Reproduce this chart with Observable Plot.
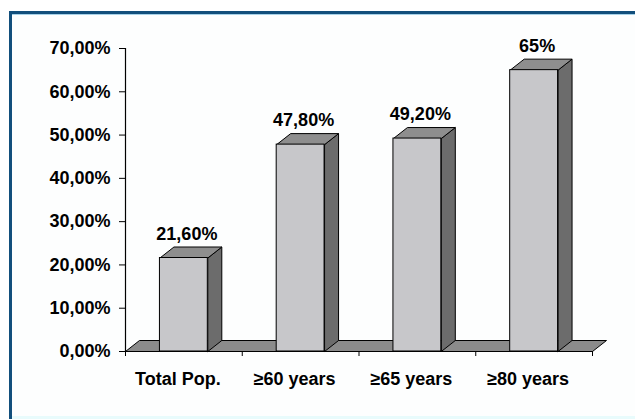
<!DOCTYPE html>
<html><head><meta charset="utf-8">
<script src="https://cdn.jsdelivr.net/npm/d3@7"></script>
<script src="https://cdn.jsdelivr.net/npm/@observablehq/plot@0.6"></script>
<style>
html,body{margin:0;padding:0;background:#fff;}
#frame{position:absolute;left:9px;top:11px;width:626px;height:408px;box-sizing:border-box;border-top:3px solid #124f7c;border-left:3px solid #124f7c;background:#fdfefe;}
#frame:before{content:"";position:absolute;left:0;right:0;top:0;height:1px;background:#a7d2e8;}
#frame:after{content:"";position:absolute;left:0;right:0;bottom:0;height:3px;background:#e8fbfc;}
#chart{position:absolute;left:0;top:0;}
</style></head><body>
<div id="frame"></div><div id="chart"></div>
<script>
const categories = ["Total Pop.", "≥60 years", "≥65 years", "≥80 years"];
const values = [21.6, 47.8, 49.2, 65];
const valueLabels = ["21,60%", "47,80%", "49,20%", "65%"];
const yTicks = [0, 10, 20, 30, 40, 50, 60, 70];

const W = 635, H = 419, mL = 125, mR = 43, mT = 48, mB = 68;
const yMax = 70;
const barW = 0.41;
const depthPx = [14, 11];
const unitX = (W - mL - mR) / categories.length;
const unitY = (H - mT - mB) / yMax;
const dX = depthPx[0] / unitX, dY = depthPx[1] / unitY;

const bars = categories.map((c, i) => ({c, i, v: values[i], label: valueLabels[i],
  x1: i + 0.5 - barW / 2, x2: i + 0.5 + barW / 2}));
const poly = (id, pts) => pts.concat([pts[0]]).map(([x, y]) => ({id, x, y}));
const n = categories.length;
const floor = poly("floor", [[0, 0], [n, 0], [n + dX, dY], [dX, dY]]);
const tops = bars.flatMap(b => poly(b.c, [[b.x1, b.v], [b.x2, b.v], [b.x2 + dX, b.v + dY], [b.x1 + dX, b.v + dY]]));
const sides = bars.flatMap(b => poly(b.c, [[b.x2, 0], [b.x2, b.v], [b.x2 + dX, b.v + dY], [b.x2 + dX, dY]]));

const fmt = d => d.toFixed(2).replace(".", ",") + "%";

const chart = Plot.plot({
  width: W, height: H,
  marginLeft: mL, marginRight: mR, marginTop: mT, marginBottom: mB,
  x: {type: "linear", domain: [0, n]},
  y: {domain: [0, yMax]},
  style: {fontFamily: "'Liberation Sans', Arial, sans-serif", fontWeight: "bold", fontSize: "18px", color: "black", background: "transparent", overflow: "visible"},
  marks: [
    Plot.line(floor, {x: "x", y: "y", z: "id", fill: "#8b8b8b", stroke: "black", strokeWidth: 1}),
    Plot.line(sides, {x: "x", y: "y", z: "id", fill: "#6c6c6c", stroke: "black", strokeWidth: 1}),
    Plot.line(tops, {x: "x", y: "y", z: "id", fill: "#8e8e8e", stroke: "black", strokeWidth: 1}),
    Plot.rect(bars, {x1: "x1", x2: "x2", y1: () => 0, y2: "v", fill: "#c7c7ca", stroke: "black", strokeWidth: 1}),
    Plot.ruleX([0], {y1: () => 0, y2: () => yMax, stroke: "black", strokeWidth: 1.2}),
    Plot.axisY({ticks: yTicks, tickFormat: fmt, tickSize: 6, tickPadding: 9, label: null, fontSize: 18}),
    Plot.axisX({ticks: d3.range(n + 1), tickFormat: () => "", tickSize: 5, label: null}),
    Plot.text(bars, {x: d => d.i + 0.5, y: () => 0, text: "c", dx: -6, dy: 21, lineAnchor: "top", fontSize: 18, fontWeight: "bold"}),
    Plot.text(bars, {x: d => d.i + 0.5, y: "v", text: "label", dx: 3, dy: -31, lineAnchor: "top", fontSize: 18, fontWeight: "bold"})
  ]
});
document.getElementById("chart").appendChild(chart);
</script>
</body></html>
